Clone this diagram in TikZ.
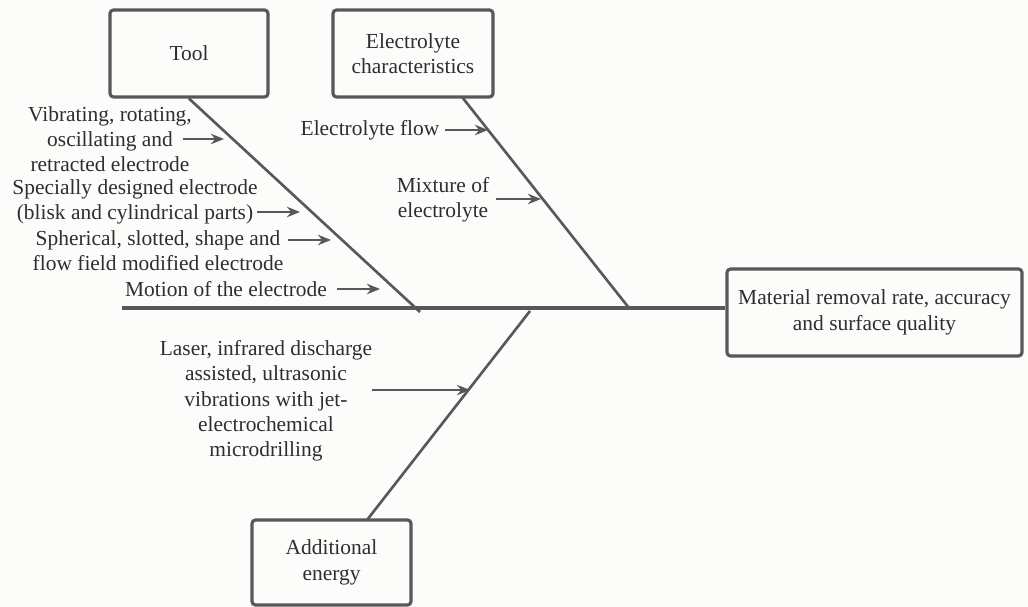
\documentclass[tikz,border=0pt]{standalone}
\usepackage{fontspec}
\setmainfont{Liberation Serif}
\usetikzlibrary{arrows.meta,calc}
\definecolor{bg}{HTML}{FCFCFA}
\definecolor{ln}{HTML}{585858}
\definecolor{tx}{HTML}{2E2E2E}
\begin{document}
\begin{tikzpicture}[x=0.02cm,y=-0.02cm,
  every node/.style={text=tx,font=\fontsize{12.2}{14.4}\selectfont},
  catbox/.style={draw=ln,line width=1.8pt,rounded corners=2pt,inner sep=0pt,align=center},
  bone/.style={draw=ln,line width=1.5pt},
  spine/.style={draw=ln,line width=1.9pt},
  arr/.style={draw=ln,line width=1pt,-{Stealth[length=7.5pt,width=6pt,inset=2.5pt]}},
  lbl/.style={align=center,inner sep=0pt}]
\fill[bg] (0,0) rectangle (1028,607);
\useasboundingbox (0,0) rectangle (1028,607);
% boxes
\node[catbox,minimum width=158*0.02cm,minimum height=87*0.02cm] (tool) at (189,53.5) {Tool};
\node[catbox,minimum width=160*0.02cm,minimum height=87*0.02cm] (elec) at (413,53.5) {Electrolyte\\characteristics};
\node[catbox,minimum width=295*0.02cm,minimum height=87*0.02cm] (res) at (874.5,312.5) {Material removal rate, accuracy\\and surface quality};
\node[catbox,minimum width=159*0.02cm,minimum height=85*0.02cm] (add) at (331.5,562.5) {Additional\\energy};
% spine
\coordinate (sp0) at (122,308);
\draw[spine] (sp0) -- (sp0 -| res.west);
% bones
\coordinate (t1) at (420,312);
\coordinate (e0) at (462,97);
\coordinate (e1) at (629,308);
\coordinate (a0) at (367,520);
\coordinate (a1) at (530,311);
\draw[bone] (tool.south) -- (t1);
\draw[bone] (e0) -- (e1);
\draw[bone] (a0) -- (a1);
% cause labels
\node[lbl] (vib) at (110,139) {Vibrating, rotating,\\oscillating and\\retracted electrode};
\node[lbl] (spec) at (135,202) {Specially designed electrode\\(blisk and cylindrical parts)};
\node[lbl] (sph) at (158,251) {Spherical, slotted, shape and\\flow field modified electrode};
\node[lbl] (mot) at (226,289) {Motion of the electrode};
\node[lbl] (flow) at (370,130) {Electrolyte flow};
\node[lbl] (mix) at (443,200) {Mixture of\\electrolyte};
\node[lbl] (las) at (266,401) {Laser, infrared discharge\\assisted, ultrasonic\\vibrations with jet-\\electrochemical\\microdrilling};
% arrows
\coordinate (v0) at (183,139); \coordinate (v1) at (224,139);
\coordinate (s0) at (257,212); \coordinate (s1) at (300,212);
\coordinate (h0) at (288,240); \coordinate (h1) at (331,240);
\coordinate (m0) at (337,289); \coordinate (m1) at (380,289);
\coordinate (f0) at (445,130); \coordinate (f1) at (488,130);
\coordinate (x0) at (496,199); \coordinate (x1) at (541,199);
\coordinate (l0) at (372,390); \coordinate (l1) at (470,390);
\draw[arr] (v0) -- (v1);
\draw[arr] (s0) -- (s1);
\draw[arr] (h0) -- (h1);
\draw[arr] (m0) -- (m1);
\draw[arr] (f0) -- (f1);
\draw[arr] (x0) -- (x1);
\draw[arr] (l0) -- (l1);
\end{tikzpicture}
\end{document}
